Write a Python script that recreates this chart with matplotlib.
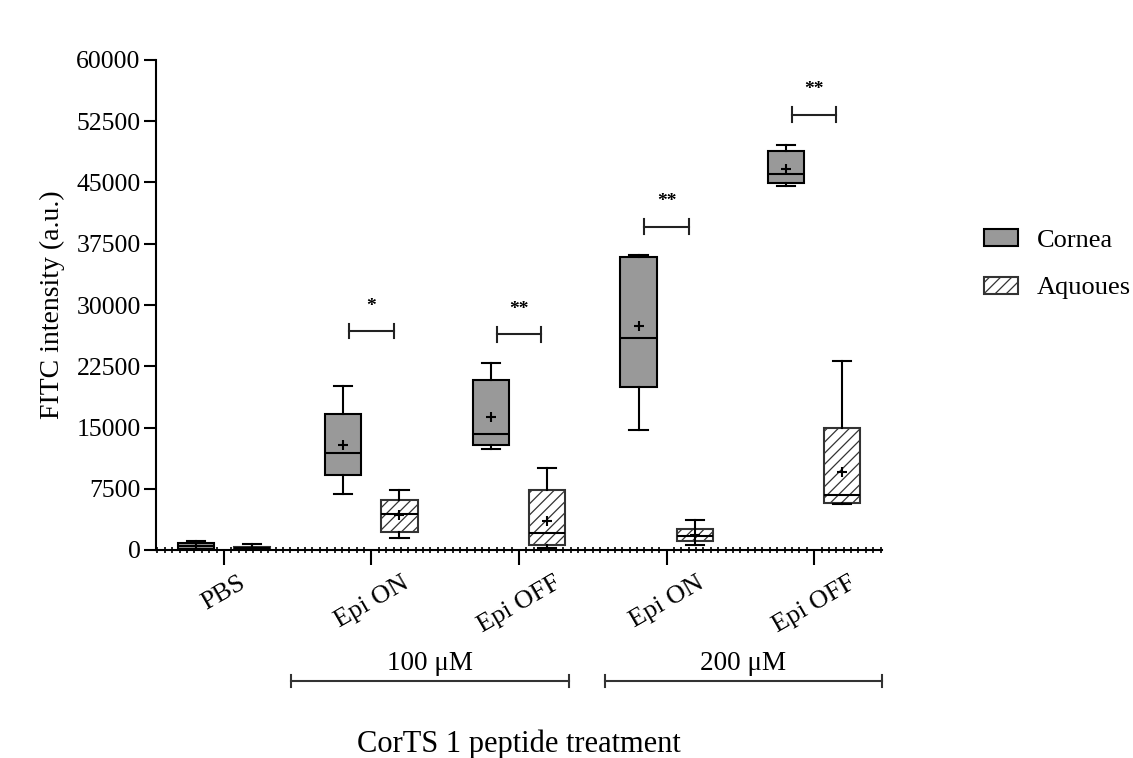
import matplotlib
matplotlib.use("Agg")
import matplotlib.pyplot as plt
import matplotlib.transforms as mtransforms
from matplotlib.patches import Patch
from matplotlib.ticker import MultipleLocator

plt.rcParams['font.family'] = ['Liberation Serif', 'DejaVu Serif']
plt.rcParams['hatch.linewidth'] = 0.9
plt.rcParams['hatch.color'] = '#333333'

# ---- data ----
categories = ["PBS", "Epi ON", "Epi OFF", "Epi ON", "Epi OFF"]
groups = ["100 \u03bcM", "200 \u03bcM"]
series = ["Cornea", "Aquoues"]

cornea_whislo = [0, 6900, 12400, 14700, 44600]
cornea_q1 = [100, 9200, 12900, 19900, 44900]
cornea_med = [500, 11900, 14200, 26000, 46100]
cornea_q3 = [900, 16700, 20800, 35900, 48900]
cornea_whishi = [1100, 20100, 22900, 36100, 49600]
cornea_mean = [550, 12800, 16300, 27400, 46700]

aq_whislo = [0, 1500, 250, 600, 5600]
aq_q1 = [50, 2200, 600, 1050, 5700]
aq_med = [250, 4400, 2100, 1700, 6700]
aq_q3 = [400, 6100, 7300, 2600, 14900]
aq_whishi = [700, 7300, 10100, 3700, 23200]
aq_mean = [300, 4300, 3500, 1800, 9600]

sig_labels = ["", "*", "**", "**", "**"]
sig_y = [None, 26800, 26400, 39600, 53300]

yticks = [0, 7500, 15000, 22500, 30000, 37500, 45000, 52500, 60000]

# ---- figure ----
fig = plt.figure(figsize=(11.33, 7.58), dpi=100)
ax = fig.add_axes([156/1133, 1-550/758, (882-156)/1133, (550-60)/758])

def stats(wl, q1, md, q3, wh, mn):
    return [dict(whislo=a, q1=b, med=c, q3=d, whishi=e, mean=f, fliers=[])
            for a, b, c, d, e, f in zip(wl, q1, md, q3, wh, mn)]

xs = list(range(len(categories)))
off = 0.19
bw = 0.245

common = dict(widths=bw, showmeans=True, patch_artist=True,
              whiskerprops=dict(color='black', lw=1.5),
              capprops=dict(color='black', lw=1.5),
              medianprops=dict(color='black', lw=1.5),
              meanprops=dict(marker='+', markeredgecolor='black', markersize=7, markeredgewidth=1.5),
              capwidths=bw/2, manage_ticks=False)

b1 = ax.bxp(stats(cornea_whislo, cornea_q1, cornea_med, cornea_q3, cornea_whishi, cornea_mean),
            positions=[x - off for x in xs], **common)
for p in b1['boxes']:
    p.set_facecolor('#999999'); p.set_edgecolor('black'); p.set_linewidth(1.5)
b2 = ax.bxp(stats(aq_whislo, aq_q1, aq_med, aq_q3, aq_whishi, aq_mean),
            positions=[x + off for x in xs], **common)
for p in b2['boxes']:
    p.set_facecolor('white'); p.set_edgecolor('#333333'); p.set_linewidth(1.5); p.set_hatch('///')

# significance brackets
for x, y, lab in zip(xs, sig_y, sig_labels):
    if y is None:
        continue
    ax.plot([x - 0.15, x + 0.15], [y, y], color='#222222', lw=1.5)
    ax.plot([x - 0.15, x - 0.15], [y - 900, y + 900], color='#222222', lw=1.5)
    ax.plot([x + 0.15, x + 0.15], [y - 900, y + 900], color='#222222', lw=1.5)
    ax.text(x, y + 2000, lab, ha='center', va='bottom', fontsize=14, fontweight='bold')

ax.set_xlim(-0.46, 4.46)
ax.set_ylim(0, 60000)
ax.set_yticks(yticks)
ax.set_yticklabels([str(v) for v in yticks])
ax.set_xticks(xs)
ax.set_xticklabels(categories, rotation=30, ha='center')
ax.xaxis.set_minor_locator(MultipleLocator(0.05))
ax.tick_params(axis='x', which='minor', direction='inout', length=5, width=1.2)
ax.tick_params(axis='x', which='major', direction='out', length=11, width=1.5, pad=5, labelsize=19)
ax.tick_params(axis='y', which='major', direction='out', length=9, width=1.5, pad=2, labelsize=18.5)
for s in ['top', 'right']:
    ax.spines[s].set_visible(False)
for s in ['left', 'bottom']:
    ax.spines[s].set_linewidth(1.5)

ax.set_ylabel("FITC intensity (a.u.)", fontsize=20, labelpad=8)

# group brackets below the axis
tr = mtransforms.blended_transform_factory(ax.transData, fig.transFigure)
gspan = [(0.457, 2.34), (2.58, 4.46)]
for (a, b), g in zip(gspan, groups):
    yl = 1 - 681/758
    ax.plot([a, b], [yl, yl], color='#333333', lw=1.5, transform=tr, clip_on=False)
    for xx in (a, b):
        ax.plot([xx, xx], [yl - 0.008, yl + 0.008], color='#333333', lw=1.5, transform=tr, clip_on=False)
    ax.text((a + b) / 2, yl + 0.006, g, ha='center', va='bottom', fontsize=19.5, transform=tr)

ax.text(2.0, 1 - 744/758, "CorTS 1 peptide treatment", ha='center', va='center', fontsize=22, transform=tr)

handles = [Patch(facecolor='#999999', edgecolor='black', lw=1.5),
           Patch(facecolor='white', edgecolor='#333333', lw=1.5, hatch='///')]
fig.legend(handles, series, loc='upper left', bbox_to_anchor=(984/1133, 1-229/758),
           frameon=False, fontsize=19, handlelength=1.3, handleheight=0.6,
           labelspacing=0.95, handletextpad=0.7, borderaxespad=0, borderpad=0)

fig.savefig("out.png", dpi=100)
